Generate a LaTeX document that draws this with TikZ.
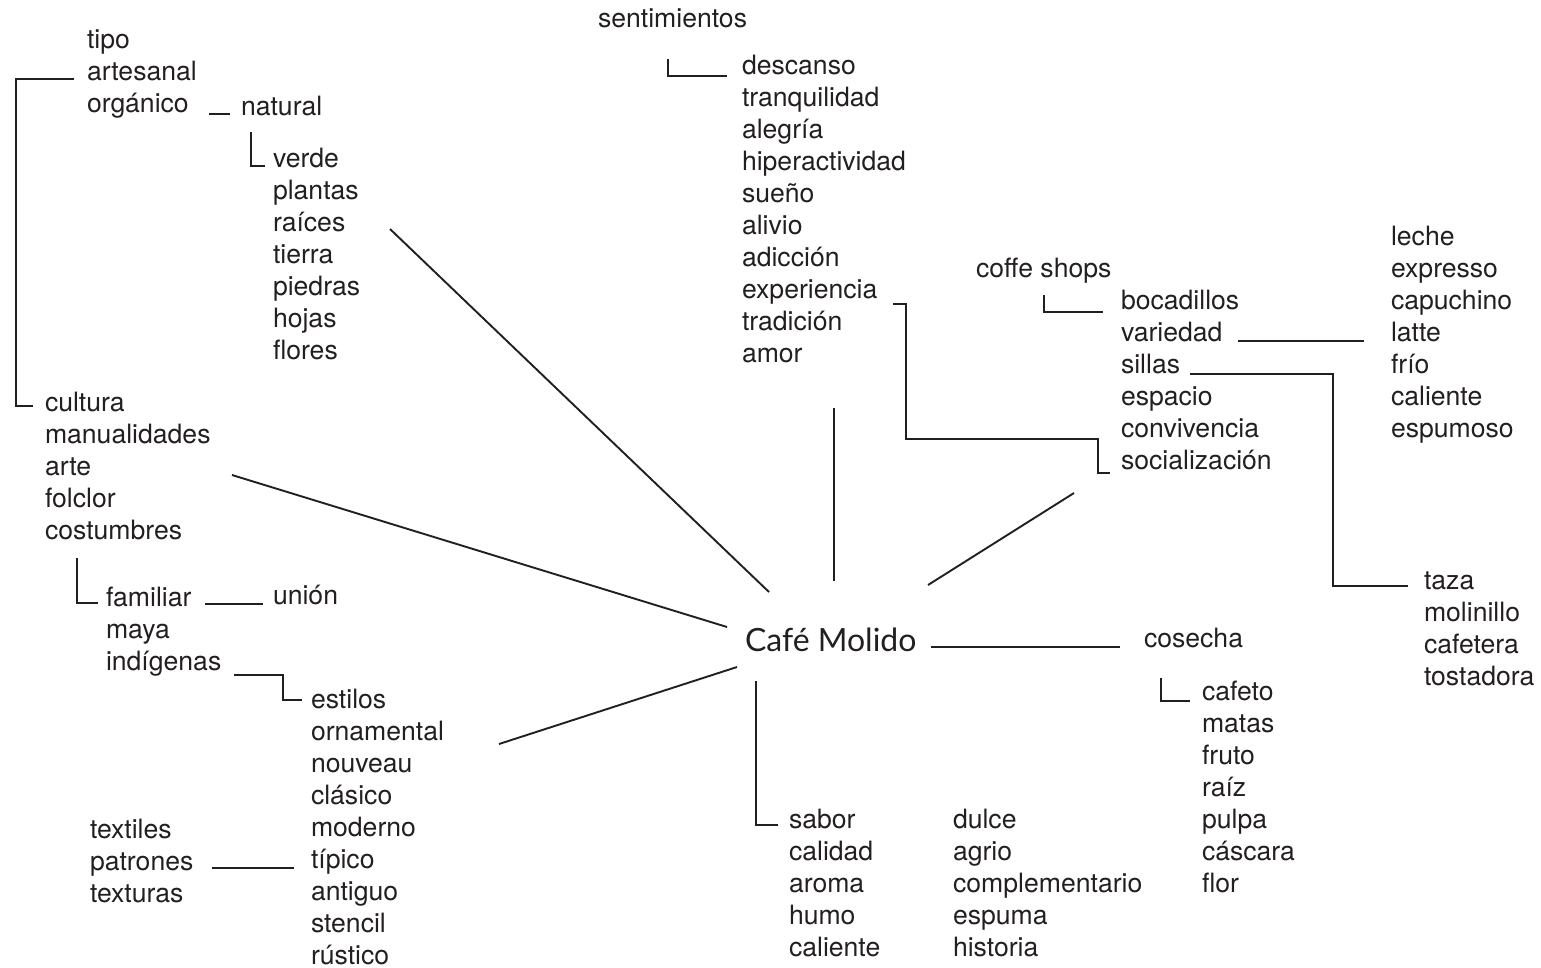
\documentclass[tikz,border=0pt]{standalone}
\usepackage{fontspec}
\setmainfont{TeX Gyre Heros}
\newfontfamily\titlefont{Lato}
\definecolor{ink}{RGB}{35,31,32}
\begin{document}
\begin{tikzpicture}[x=1pt,y=-1pt,
  lbl/.style={anchor=base west,inner sep=0pt,outer sep=0pt,text=ink,font=\fontsize{26.6}{32}\selectfont},
  title/.style={anchor=base west,inner sep=0pt,outer sep=0pt,text=ink,font=\titlefont\fontsize{32}{38}\selectfont},
  ln/.style={draw=ink,line width=1.9pt}]
\useasboundingbox (0,0) rectangle (1541,967);
% ---------- text columns ----------
\foreach \w [count=\i from 0] in {tipo,artesanal,orgánico}
  \node[lbl] (tp\i) at (87,{48+32*\i}) {\w};
\node[lbl] (natural) at (241,115) {natural};
\foreach \w [count=\i from 0] in {verde,plantas,raíces,tierra,piedras,hojas,flores}
  \node[lbl] (vd\i) at (273,{167+32*\i}) {\w};
\node[lbl] (sent) at (598,27) {sentimientos};
\foreach \w [count=\i from 0] in {descanso,tranquilidad,alegría,hiperactividad,sueño,alivio,adicción,experiencia,tradición,amor}
  \node[lbl] (ds\i) at (742,{74+32*\i}) {\w};
\node[lbl] (coffe) at (976,277) {coffe shops};
\foreach \w [count=\i from 0] in {bocadillos,variedad,sillas,espacio,convivencia,socialización}
  \node[lbl] (bc\i) at (1121,{309+32*\i}) {\w};
\foreach \w [count=\i from 0] in {leche,expresso,capuchino,latte,frío,caliente,espumoso}
  \node[lbl] (lc\i) at (1391,{245+32*\i}) {\w};
\foreach \w [count=\i from 0] in {taza,molinillo,cafetera,tostadora}
  \node[lbl] (tz\i) at (1424,{589+32*\i}) {\w};
\node[title] (cafe) at (745,651) {Café Molido};
\node[lbl] (cosecha) at (1144,647) {cosecha};
\foreach \w [count=\i from 0] in {cafeto,matas,fruto,raíz,pulpa,cáscara,flor}
  \node[lbl] (cf\i) at (1202,{700+32*\i}) {\w};
\foreach \w [count=\i from 0] in {sabor,calidad,aroma,humo,caliente}
  \node[lbl] (sb\i) at (789,{828+32*\i}) {\w};
\foreach \w [count=\i from 0] in {dulce,agrio,complementario,espuma,historia}
  \node[lbl] (dl\i) at (953,{828+32*\i}) {\w};
\foreach \w [count=\i from 0] in {cultura,manualidades,arte,folclor,costumbres}
  \node[lbl] (cu\i) at (45,{411+32*\i}) {\w};
\foreach \w [count=\i from 0] in {familiar,maya,indígenas}
  \node[lbl] (fm\i) at (106,{606+32*\i}) {\w};
\node[lbl] (union) at (273,604) {unión};
\foreach \w [count=\i from 0] in {estilos,ornamental,nouveau,clásico,moderno,típico,antiguo,stencil,rústico}
  \node[lbl] (es\i) at (311,{708+32*\i}) {\w};
\foreach \w [count=\i from 0] in {textiles,patrones,texturas}
  \node[lbl] (tx\i) at (90,{838+32*\i}) {\w};
% ---------- connector end points ----------
\coordinate (a1) at (390,229);  \coordinate (b1) at (769,592);
\coordinate (a2) at (232,475);  \coordinate (b2) at (727,627);
\coordinate (a3) at (499,744);  \coordinate (b3) at (737,667);
\coordinate (a4) at (834,408);  \coordinate (b4) at (834,581);
\coordinate (a5) at (928,585);  \coordinate (b5) at (1074,493);
\coordinate (a6) at (931,647);  \coordinate (b6) at (1120,647);
\coordinate (a7) at (756,681);  \coordinate (b7) at (778,825);
\coordinate (a8) at (1161,678); \coordinate (b8) at (1190,701);
\coordinate (a9) at (1238,341); \coordinate (b9) at (1364,341);
\coordinate (a10) at (1190,374); \coordinate (m10) at (1333,480); \coordinate (b10) at (1408,586);
\coordinate (a11) at (893,304); \coordinate (m11a) at (906,439); \coordinate (m11b) at (1098,439); \coordinate (b11) at (1110,473);
\coordinate (a12) at (1044,295); \coordinate (b12) at (1103,312);
\coordinate (a13) at (668,59);  \coordinate (b13) at (727,76);
\coordinate (a14) at (209,114); \coordinate (b14) at (230,114);
\coordinate (a15) at (251,132); \coordinate (b15) at (265,166);
\coordinate (a16) at (74,79);   \coordinate (m16) at (16,240); \coordinate (b16) at (33,406);
\coordinate (a17) at (77,558);  \coordinate (b17) at (98,603);
\coordinate (a18) at (205,604); \coordinate (b18) at (263,604);
\coordinate (a19) at (234,675); \coordinate (m19) at (283,688); \coordinate (b19) at (302,700);
\coordinate (a20) at (212,868); \coordinate (b20) at (294,868);
% ---------- connectors ----------
\draw[ln] (a1) -- (b1);
\draw[ln] (a2) -- (b2);
\draw[ln] (a3) -- (b3);
\draw[ln] (a4) -- (b4);
\draw[ln] (a5) -- (b5);
\draw[ln] (a6) -- (b6);
\draw[ln] (a7) |- (b7);
\draw[ln] (a8) |- (b8);
\draw[ln] (a9) -- (b9);
\draw[ln] (a10) -| (m10) |- (b10);
\draw[ln] (a11) -| (m11a) -- (m11b) |- (b11);
\draw[ln] (a12) |- (b12);
\draw[ln] (a13) |- (b13);
\draw[ln] (a14) -- (b14);
\draw[ln] (a15) |- (b15);
\draw[ln] (a16) -| (m16) |- (b16);
\draw[ln] (a17) |- (b17);
\draw[ln] (a18) -- (b18);
\draw[ln] (a19) -| (m19) |- (b19);
\draw[ln] (a20) -- (b20);
\end{tikzpicture}
\end{document}
